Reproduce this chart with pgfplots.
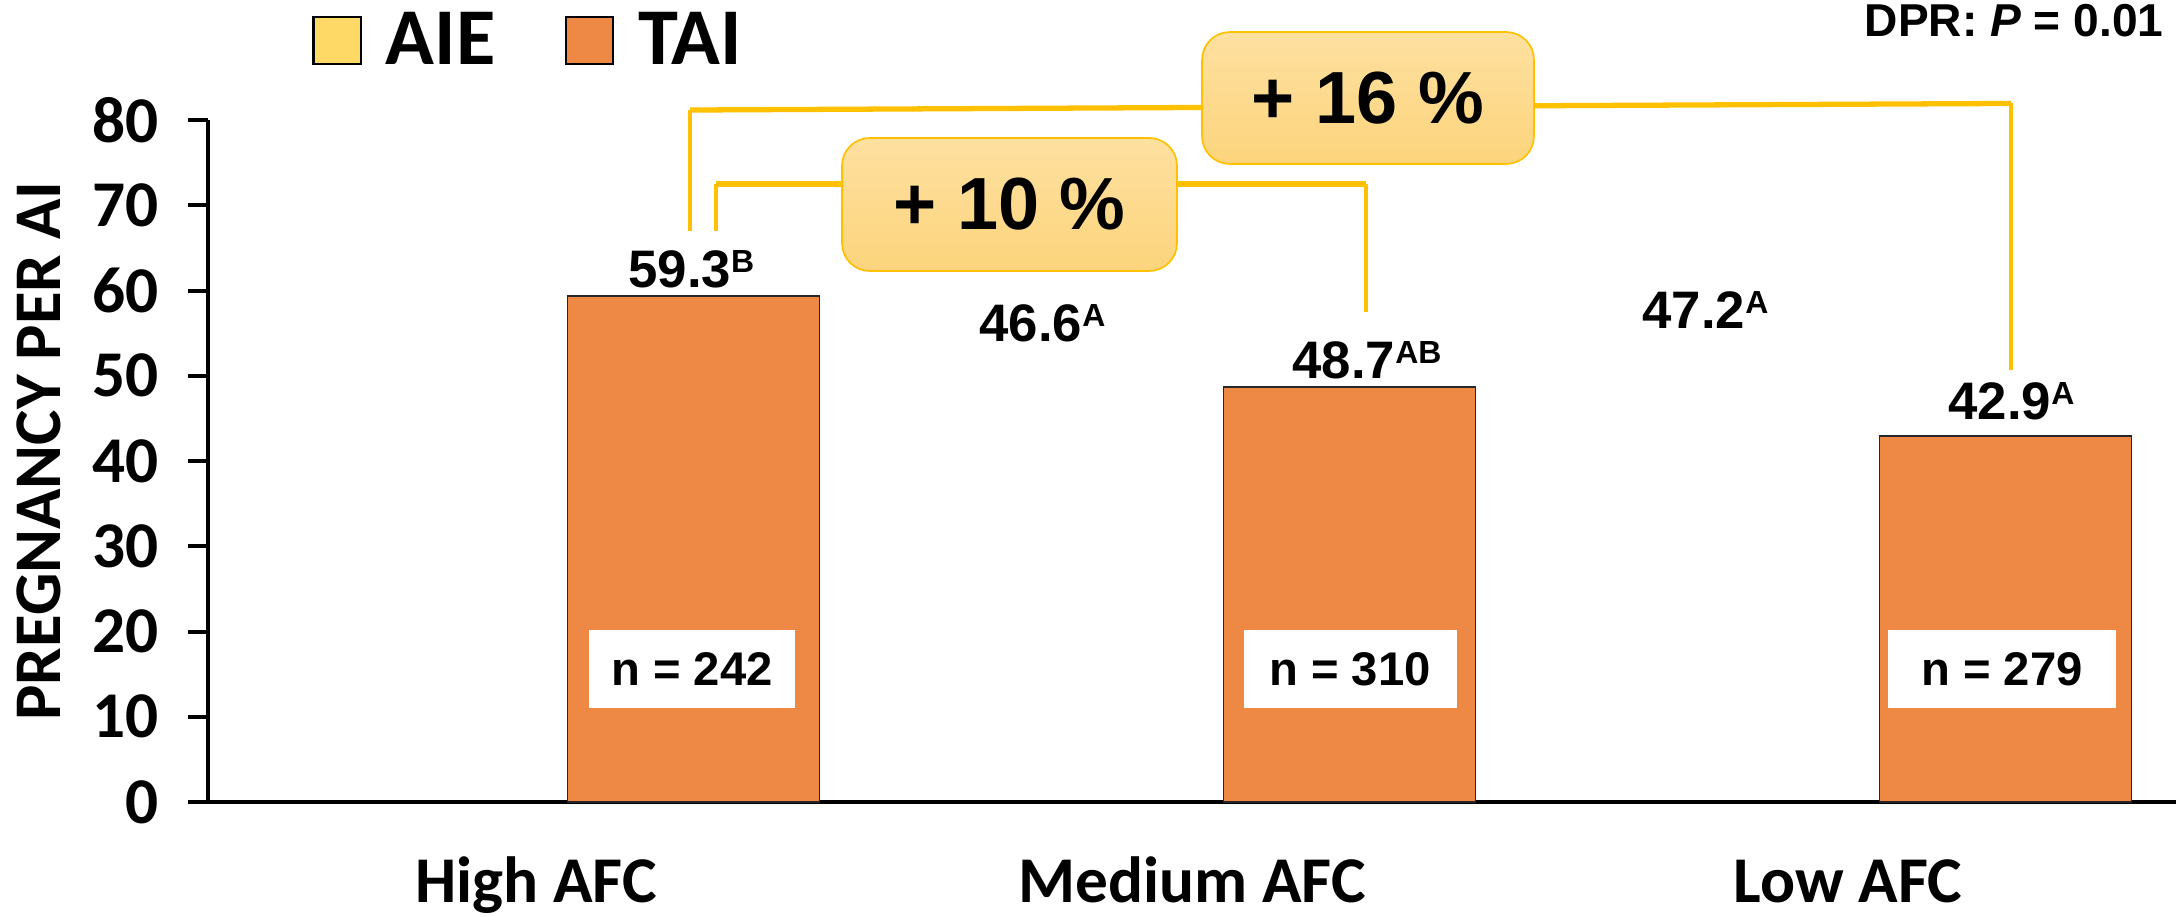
\documentclass[border=0pt]{standalone}
\usepackage{fontspec}
\setmainfont{Carlito}
\newfontfamily\lsans{Liberation Sans}
\usepackage{pgfplots}
\pgfplotsset{compat=1.18}
\definecolor{tai}{HTML}{ED8944}
\definecolor{aie}{HTML}{FFD966}
\definecolor{brk}{HTML}{FFC000}
\definecolor{boxtop}{HTML}{FEE0A0}
\definecolor{boxbot}{HTML}{FCD47C}
\newcommand{\sups}[1]{\raisebox{5.4pt}{\fontsize{11.5}{11.5}\selectfont #1}}
\pgfplotsset{sqlegend/.style={legend image code/.code={\draw[##1, draw=black, line width=0.8pt] (0pt,-8.5pt) rectangle (17pt,8.5pt);}}}
\begin{document}
\begin{tikzpicture}
\begin{axis}[
  at={(0,0)}, anchor=south west,
  scale only axis, width=708.48pt, height=245.52pt,
  xmin=-0.5, xmax=2.5, ymin=0, ymax=80,
  axis x line=bottom, axis y line=left,
  axis line style={-, line width=1.44pt, black},
  ytick={0,10,...,80},
  xtick={0,1,2},
  xticklabels={High AFC, Medium AFC, Low AFC},
  tick align=outside,
  major tick length=7.2pt,
  tick style={line width=1.44pt, black},
  x tick style={draw=none},
  /pgf/number format/assume math mode=true,
  ticklabel style={font=\fontsize{23.5}{24}\selectfont\bfseries},
  yticklabel style={xshift=-7pt},
  xticklabel style={anchor=base, yshift=-29pt, inner sep=0pt},
  ylabel={PREGNANCY PER AI},
  ylabel style={font=\fontsize{24}{24}\selectfont\bfseries, at={(axis description cs:-0.0861,0.5147)}, anchor=center},
  legend columns=2,
  legend style={draw=none, fill=none, at={(axis description cs:0.0528,1.1166)}, anchor=west, inner sep=0pt,
    nodes={inner sep=0pt},
    font=\fontsize{29}{29}\selectfont\bfseries,
    /tikz/every odd column/.append style={column sep=8.6pt},
    /tikz/every even column/.append style={column sep=25pt}},
  clip=false,
]
\addlegendimage{sqlegend, fill=aie}
\addlegendentry{AIE}
\addplot[ybar, sqlegend, bar width=90.72pt, bar shift=56.7pt, fill=tai, draw=black!85, line width=0.7pt]
  coordinates {(0,59.3) (1,48.7) (2,42.9)};
\addlegendentry{TAI}
\addplot[ybar, bar width=90.72pt, bar shift=-56.7pt, draw=none, fill=none, forget plot]
  coordinates {(1,46.6) (2,47.2)};

% value labels
\node[anchor=base west, inner sep=0pt, font=\lsans\bfseries\fontsize{19}{19}\selectfont] at (axis cs:0.1402,60.41) {59.3\sups{B}};
\node[anchor=base west, inner sep=0pt, font=\lsans\bfseries\fontsize{19}{19}\selectfont] at (axis cs:0.6753,53.96) {46.6\sups{A}};
\node[anchor=base west, inner sep=0pt, font=\lsans\bfseries\fontsize{19}{19}\selectfont] at (axis cs:1.1524,49.62) {48.7\sups{AB}};
\node[anchor=base west, inner sep=0pt, font=\lsans\bfseries\fontsize{19}{19}\selectfont] at (axis cs:1.686,55.6) {47.2\sups{A}};
\node[anchor=base west, inner sep=0pt, font=\lsans\bfseries\fontsize{19}{19}\selectfont] at (axis cs:2.1524,44.81) {42.9\sups{A}};

% n boxes
\node[fill=white, minimum width=74.2pt, minimum height=28.1pt, inner sep=0pt, font=\lsans\bfseries\fontsize{17}{17}\selectfont] at (axis cs:0.2378,15.6) {n = 242};
\node[fill=white, minimum width=76.7pt, minimum height=28.1pt, inner sep=0pt, font=\lsans\bfseries\fontsize{17}{17}\selectfont] at (axis cs:1.2409,15.6) {n = 310};
\node[fill=white, minimum width=82.1pt, minimum height=28.1pt, inner sep=0pt, font=\lsans\bfseries\fontsize{17}{17}\selectfont] at (axis cs:2.2348,15.6) {n = 279};

% brackets
\draw[brk, line width=1.4pt] (axis cs:0.2348,66.98) -- (axis cs:0.2348,81.17);
\draw[brk, line width=1.9pt] (axis cs:0.2348,81.17) -- (axis cs:1.015,81.47);
\draw[brk, line width=1.9pt] (axis cs:1.521,81.67) -- (axis cs:2.2485,81.94);
\draw[brk, line width=1.4pt] (axis cs:2.2485,81.94) -- (axis cs:2.2485,50.67);
\draw[brk, line width=1.4pt] (axis cs:0.2744,66.98) -- (axis cs:0.2744,72.49);
\draw[brk, line width=1.9pt] (axis cs:0.2744,72.49) -- (axis cs:0.4665,72.49);
\draw[brk, line width=1.9pt] (axis cs:0.9771,72.49) -- (axis cs:1.2652,72.49);
\draw[brk, line width=1.4pt] (axis cs:1.2652,72.49) -- (axis cs:1.2652,57.48);

% percentage boxes
\node[rounded corners=10pt, draw=brk, line width=0.6pt, top color=boxtop, bottom color=boxbot, minimum width=120.6pt, minimum height=47.9pt, inner sep=0pt, font=\lsans\bfseries\fontsize{26.6}{27}\selectfont] at (axis cs:0.7218,70.09) {+ 10 \%};
\node[rounded corners=10pt, draw=brk, line width=0.6pt, top color=boxtop, bottom color=boxbot, minimum width=119.5pt, minimum height=47.5pt, inner sep=0pt, font=\lsans\bfseries\fontsize{26.6}{27}\selectfont] at (axis cs:1.2683,82.58) {+ 16 \%};

% DPR
\node[anchor=base east, inner sep=0pt, font=\lsans\bfseries\fontsize{16.6}{17}\selectfont] at (axis cs:2.4817,89.74) {DPR: \textit{P} = 0.01};
\end{axis}
\pgfresetboundingbox
\path[use as bounding box] (-74.88pt,-41.04pt) rectangle (708.48pt,288.72pt);
\end{tikzpicture}
\end{document}
